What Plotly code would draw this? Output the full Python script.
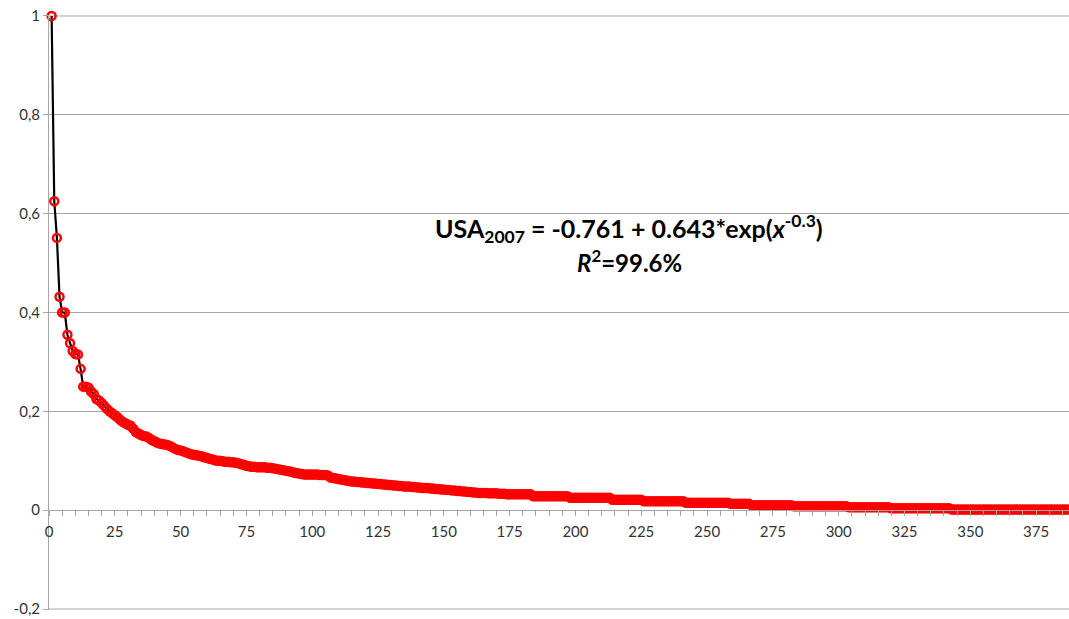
import plotly.graph_objects as go

# Rank-ordered shares
values_top = [1.000, 0.625, 0.551, 0.432, 0.400, 0.400, 0.355, 0.338, 0.322, 0.316,
              0.315, 0.286, 0.250, 0.250, 0.248, 0.240, 0.235, 0.225, 0.222, 0.217]
values_21_50 = [0.211, 0.205, 0.200, 0.196, 0.192, 0.188, 0.183, 0.179, 0.176, 0.173,
                0.171, 0.165, 0.158, 0.155, 0.152, 0.150, 0.149, 0.146, 0.142, 0.140,
                0.137, 0.135, 0.134, 0.133, 0.132, 0.130, 0.127, 0.124, 0.122, 0.121]
values_51_100 = [0.119, 0.117, 0.115, 0.113, 0.112, 0.111, 0.110, 0.109, 0.107, 0.106,
                 0.104, 0.103, 0.101, 0.100, 0.100, 0.099, 0.098, 0.098, 0.097, 0.097,
                 0.096, 0.095, 0.093, 0.092, 0.090, 0.089, 0.088, 0.088, 0.087, 0.087,
                 0.087, 0.087, 0.086, 0.086, 0.085, 0.084, 0.083, 0.082, 0.081, 0.080,
                 0.079, 0.078, 0.076, 0.075, 0.074, 0.073, 0.072, 0.072, 0.072, 0.072]
values_101_162 = [0.072, 0.072, 0.071, 0.071, 0.071, 0.070, 0.066,
                  0.065, 0.064, 0.063, 0.062, 0.061, 0.060, 0.059, 0.058,
                  0.058, 0.057, 0.057, 0.056, 0.056, 0.055, 0.055, 0.054, 0.054, 0.053,
                  0.053, 0.052, 0.052, 0.051, 0.051, 0.050, 0.050, 0.049, 0.049, 0.048, 0.048, 0.048,
                  0.047, 0.047, 0.046, 0.046, 0.045, 0.045, 0.045, 0.044, 0.044, 0.043, 0.043, 0.042, 0.042,
                  0.041, 0.041, 0.040, 0.040, 0.039, 0.039, 0.038, 0.038, 0.037, 0.037, 0.036, 0.036]
values_tail = ([0.035] * 4 + [0.034] * 4 + [0.033] * 3 + [0.032] * 10 + [0.028] * 14 +
               [0.025] * 16 + [0.021] * 12 + [0.018] * 16 + [0.0150] * 17 + [0.0128] * 8 +
               [0.0098] * 16 + [0.0077] * 21 + [0.0058] * 16 + [0.0037] * 23 + [0.0014] * 45)

values = values_top + values_21_50 + values_51_100 + values_101_162 + values_tail
ranks = list(range(1, len(values) + 1))

y_tickvals = [-0.2, 0, 0.2, 0.4, 0.6, 0.8, 1]
y_ticktext = ["-0,2", "0", "0,2", "0,4", "0,6", "0,8", "1"]
x_tickvals = [0, 25, 50, 75, 100, 125, 150, 175, 200, 225, 250, 275, 300, 325, 350, 375]

GRID = "#a6a6a6"
FONT = "Lato"
Y_RANGE = [-0.202, 1.002]

fig = go.Figure()
fig.add_trace(go.Scatter(x=ranks, y=values, mode="lines", line=dict(color="black", width=2.2),
                         hoverinfo="skip", showlegend=False, cliponaxis=False))
fig.add_trace(go.Scatter(x=ranks, y=values, mode="markers",
                         marker=dict(symbol="circle-open", size=8, color="#ff0000",
                                     line=dict(color="#ff0000", width=2.5)),
                         showlegend=False, cliponaxis=False))

# edge gridlines (top and bottom of the value axis)
for gv in (y_tickvals[0], y_tickvals[-1]):
    fig.add_shape(type="line", xref="paper", yref="y", x0=0, x1=1, y0=gv, y1=gv,
                  line=dict(color=GRID, width=1), layer="below")

fig.add_annotation(xref="paper", yref="paper", x=0.5686, y=0.6408, xanchor="center", yanchor="middle",
                   text="<b>USA<sub>2007</sub> = -0.761 + 0.643*exp(<i>x</i><sup>-0.3</sup>)</b>",
                   showarrow=False, font=dict(family=FONT, size=25, color="black"))
fig.add_annotation(xref="paper", yref="paper", x=0.5696, y=0.5870, xanchor="center", yanchor="middle",
                   text="<b><i>R</i><sup>2</sup>=99.6%</b>",
                   showarrow=False, font=dict(family=FONT, size=24, color="black"))

fig.update_layout(
    width=1069, height=619,
    margin=dict(l=49, r=0, t=15, b=9),
    plot_bgcolor="white", paper_bgcolor="white",
    font=dict(family=FONT, size=15, color="#333333"),
    xaxis=dict(range=[0, 387.5], tickvals=x_tickvals, ticks="outside", ticklen=5,
               tickcolor=GRID, showline=True, linecolor=GRID, linewidth=1,
               showgrid=False, zeroline=False, anchor="free",
               position=(0 - Y_RANGE[0]) / (Y_RANGE[1] - Y_RANGE[0]),
               ticklabelstandoff=3,
               minor=dict(dtick=5, tick0=0, ticks="outside", ticklen=5, tickcolor=GRID, showgrid=False),
               tickfont=dict(family=FONT, size=15, color="#333333")),
    yaxis=dict(range=Y_RANGE, tickvals=y_tickvals, ticktext=y_ticktext, ticks="outside",
               ticklen=5, tickcolor=GRID, showline=True, linecolor=GRID, linewidth=1,
               showgrid=True, gridcolor=GRID, gridwidth=1, zeroline=False,
               tickfont=dict(family=FONT, size=15, color="#333333")),
)

fig.write_html("out.html", config={"displayModeBar": False},
               post_script="document.body.style.margin='0';")
